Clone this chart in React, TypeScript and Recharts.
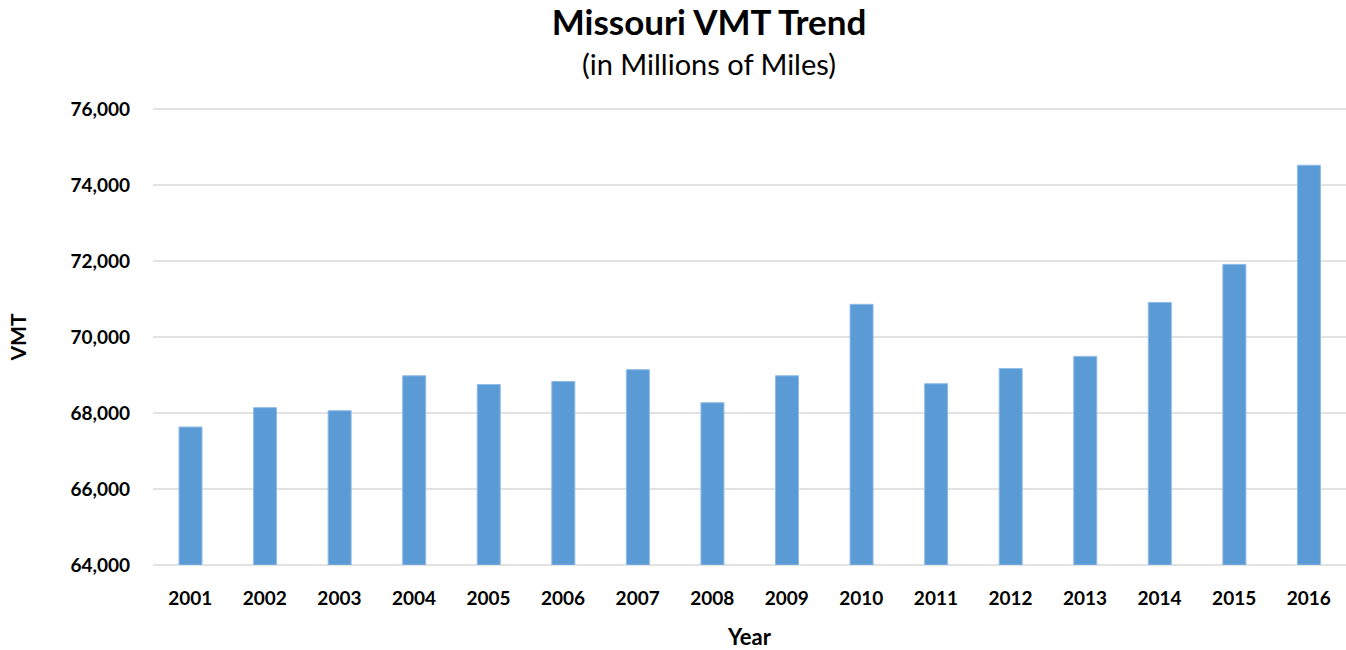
import { BarChart, Bar, XAxis, YAxis, CartesianGrid } from 'recharts'

const years = ['2001', '2002', '2003', '2004', '2005', '2006', '2007', '2008', '2009', '2010', '2011', '2012', '2013', '2014', '2015', '2016']
const vmt = [67630, 68140, 68060, 68980, 68750, 68830, 69140, 68270, 68980, 70860, 68770, 69170, 69490, 70910, 71910, 74520]
const yTicks = [64000, 66000, 68000, 70000, 72000, 74000, 76000]

const data = years.map((year, i) => ({ year, vmt: vmt[i] }))

const FONT = 'Lato, "Open Sans", sans-serif'

export default function App() {
  return (
    <div style={{ position: 'absolute', left: 0, top: 0, width: 1346, height: 650, fontFamily: FONT, background: '#fff' }}>
      <div style={{ position: 'absolute', top: 0, left: 0, width: 1418, textAlign: 'center', fontSize: 35, fontWeight: 700, color: '#000' }}>
        Missouri VMT Trend
      </div>
      <div style={{ position: 'absolute', top: 46, left: 0, width: 1418, textAlign: 'center', fontSize: 29, color: '#000' }}>
        (in Millions of Miles)
      </div>
      <BarChart
        width={1346}
        height={650}
        data={data}
        margin={{ top: 109, right: 0, left: 0, bottom: 0 }}
        barSize={23}
      >
        <CartesianGrid vertical={false} stroke="#d9d9d9" strokeWidth={1.5} />
        <XAxis
          dataKey="year"
          height={85}
          axisLine={false}
          tickLine={false}
          tickSize={0}
          tickMargin={27}
          tick={{ fontSize: 19, fontWeight: 700, fill: '#000', fontFamily: FONT }}
          label={{ value: 'Year', position: 'insideBottom', offset: 5, fontSize: 22, fontWeight: 700, fill: '#000', fontFamily: FONT }}
        />
        <YAxis
          width={153}
          domain={[64000, 76000]}
          ticks={yTicks}
          allowDataOverflow
          axisLine={false}
          tickLine={false}
          tickSize={0}
          tickMargin={23}
          tickFormatter={(v: number) => v.toLocaleString('en-US')}
          tick={{ fontSize: 19, fontWeight: 700, fill: '#000', fontFamily: FONT }}
          label={{ value: 'VMT', angle: -90, position: 'insideLeft', offset: 19, fontSize: 21, fontWeight: 700, fill: '#000', fontFamily: FONT, style: { textAnchor: 'middle' } }}
        />
        <Bar dataKey="vmt" fill="#5b9bd5" stroke="#8fbbe6" strokeWidth={1} isAnimationActive={false} />
      </BarChart>
    </div>
  )
}
